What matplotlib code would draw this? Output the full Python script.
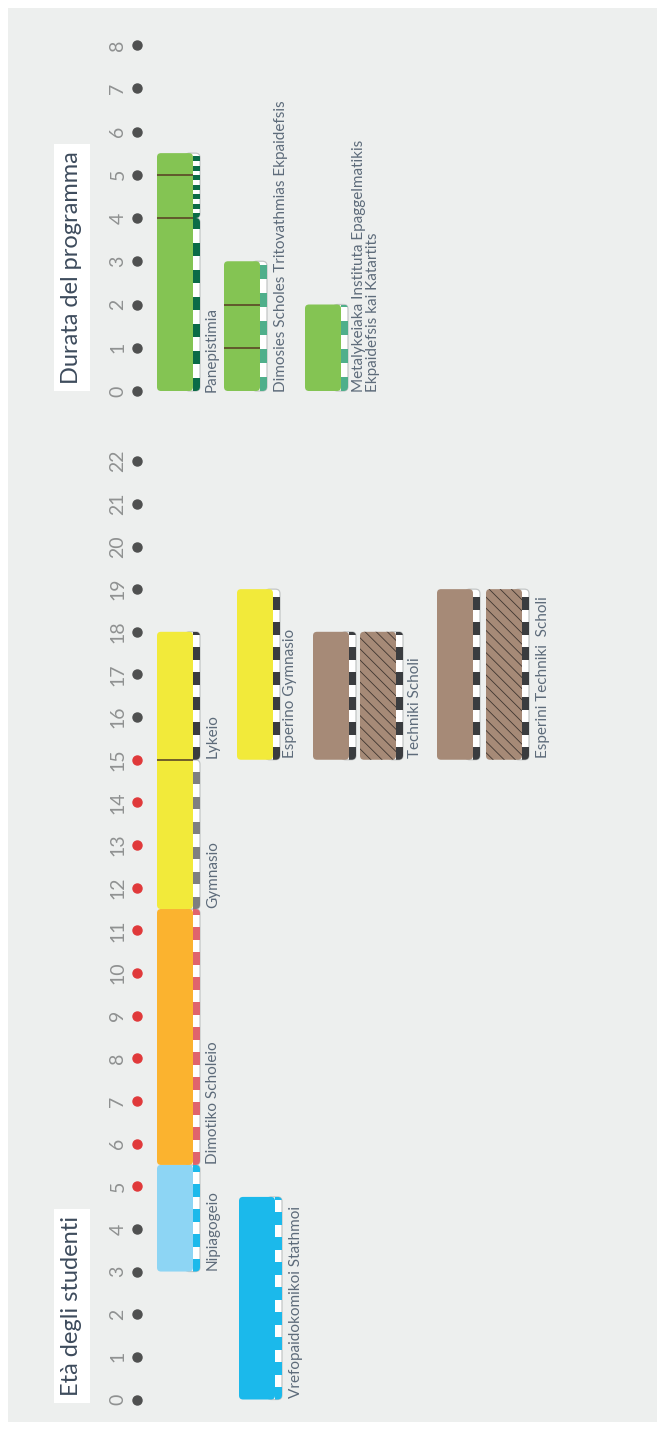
import matplotlib.pyplot as plt
from matplotlib.patches import FancyBboxPatch, Rectangle

plt.rcParams['font.family'] = ['Lato', 'DejaVu Sans']

# ---- data -------------------------------------------------------------
age_ticks = list(range(0, 23))
age_compulsory = list(range(5, 16))
dur_ticks = list(range(0, 9))

# age-based columns (start / end age)
age_col_start = [0, 3, 5.5, 11.5, 15, 15, 15, 15, 15]
age_col_end = [4.75, 5.5, 11.5, 18, 19, 18, 18, 19, 19]
age_col_dividers = [[], [], [], [15], [], [], [], [], []]
age_col_strips = [[0, 4.75], [3, 5.5], [5.5, 11.5], [11.5, 15, 18], [15, 19],
                  [15, 18], [15, 18], [15, 19], [15, 19]]

age_labels = ['Vrefopaidokomikoi Stathmoi', 'Nipiagogeio', 'Dimotiko Scholeio',
              'Gymnasio', 'Lykeio', 'Esperino Gymnasio', 'Techniki Scholi',
              'Esperini Techniki  Scholi']
age_label_at = [0, 3, 5.5, 11.5, 15, 15, 15, 15]

# duration-based columns (years of programme)
dur_col_start = [0, 0, 0]
dur_col_end = [5.5, 3, 2]
dur_col_dividers = [[4, 5], [1, 2], []]
dur_col_strips = [[0, 4, 5.5], [0, 3], [0, 2]]

dur_labels = ['Panepistimia', 'Dimosies Scholes Tritovathmias Ekpaidefsis',
              'Metalykeiaka Instituta Epaggelmatikis\nEkpaidefsis kai Katartits']
dur_label_at = [0, 0, 0]

# ---- styles / layout --------------------------------------------------
blue, lblue, orange, yellow = '#1bb9eb', '#8dd5f4', '#fbb32f', '#f2ea3a'
brown, green = '#a68a77', '#84c453'
dark, grey, red, dgreen, teal = '#3a3c3f', '#7e7f80', '#e0636c', '#0b6b47', '#4faf8b'

age_col_x = [239, 157, 157, 157, 237, 313, 360, 437, 486]
age_col_fill = [blue, lblue, orange, yellow, yellow, brown, brown, brown, brown]
age_col_stripe = [[blue], [blue], [red], [grey, dark], [dark], [dark], [dark], [dark], [dark]]
age_col_hatch = [False, False, False, False, False, False, True, False, True]
age_label_x = [296, 213, 213, 213, 213, 290, 415, 543]

dur_col_x = [157, 224, 305]
dur_col_fill = [green, green, green]
dur_col_stripe = [[dgreen, dgreen], [teal], [teal]]
dur_col_period = [[27, 9.5], [28], [28]]
dur_label_x = [212, 281, 366]

W, H = 657, 1431
fig = plt.figure(figsize=(W / 100, H / 100), dpi=100)
fig.patch.set_facecolor('white')
fig.patches.append(Rectangle((8 / W, 9 / H), 1, 1 - 17 / H, transform=fig.transFigure,
                             facecolor='#edefee', edgecolor='none', zorder=-10))

# pixel mapping: age a -> 1399.5 - 42.65 a ; duration d -> 391 - 43.25 d
ax_age = fig.add_axes([0, 0, 1, 1])
ax_age.set_xlim(0, W)
ax_age.set_ylim((1399.5 - H) / 42.65, 1399.5 / 42.65)
ax_dur = fig.add_axes([0, 0, 1, 1])
ax_dur.set_xlim(0, W)
ax_dur.set_ylim((391 - H) / 43.25, 391 / 43.25)
for ax in (ax_age, ax_dur):
    ax.axis('off')
    ax.patch.set_alpha(0)

LABEL_C = '#5d6b7a'
BAR_W, STRIP_W = 36, 7


def draw_column(ax, ppu, x0, y0, y1, fill, breaks, stripes, periods, dividers, hatched):
    upp = 1.0 / ppu
    # strip segments
    for i in range(len(breaks) - 1):
        s0, s1 = breaks[i], breaks[i + 1]
        box = FancyBboxPatch((x0 + BAR_W - 8, s0), STRIP_W + 8, s1 - s0,
                             boxstyle='round,pad=0,rounding_size=4.5', mutation_aspect=upp,
                             facecolor='white', edgecolor='#c3c6c6', linewidth=0.9, zorder=2)
        ax.add_patch(box)
        per = periods[i] * upp
        y = s0
        while y < s1:
            r = Rectangle((x0 + BAR_W, y), STRIP_W, min(per / 2, s1 - y),
                          facecolor=stripes[i], edgecolor='none', zorder=3)
            ax.add_patch(r)
            r.set_clip_path(box)
            y += per
    main = FancyBboxPatch((x0, y0), BAR_W, y1 - y0,
                          boxstyle='round,pad=0,rounding_size=4', mutation_aspect=upp,
                          facecolor=fill, edgecolor='none', zorder=4)
    ax.add_patch(main)
    if hatched:
        ax.add_patch(FancyBboxPatch((x0, y0), BAR_W, y1 - y0,
                                    boxstyle='round,pad=0,rounding_size=4', mutation_aspect=upp,
                                    facecolor='none', edgecolor='#3f3530', linewidth=0,
                                    hatch='\\\\\\', zorder=5))
    for d in dividers:
        ax.plot([x0, x0 + BAR_W], [d, d], color='#5b4726', linewidth=1.2, zorder=6,
                solid_capstyle='butt')


plt.rcParams['hatch.linewidth'] = 0.6

for i in range(len(age_col_start)):
    br = age_col_strips[i]
    draw_column(ax_age, 42.65, age_col_x[i], age_col_start[i], age_col_end[i],
                age_col_fill[i], br, age_col_stripe[i], [25] * (len(br) - 1),
                age_col_dividers[i], age_col_hatch[i])

for i in range(len(dur_col_start)):
    draw_column(ax_dur, 43.25, dur_col_x[i], dur_col_start[i], dur_col_end[i],
                dur_col_fill[i], dur_col_strips[i], dur_col_stripe[i], dur_col_period[i],
                dur_col_dividers[i], False)

# labels
for txt, at, x in zip(age_labels, age_label_at, age_label_x):
    ax_age.text(x, at + 0.03, txt, rotation=90, ha='center', va='bottom',
                fontsize=11, color=LABEL_C)
for txt, at, x in zip(dur_labels, dur_label_at, dur_label_x):
    ax_dur.text(x, at - 0.02, txt, rotation=90, ha='center', va='bottom',
                fontsize=11, color=LABEL_C, multialignment='left', linespacing=1.0)

# axes dots and numbers
for a in age_ticks:
    c = '#e0393a' if a in age_compulsory else '#4f5050'
    ax_age.plot(137, a, 'o', color=c, markersize=6.5, zorder=6)
    ax_age.text(118, a, str(a), rotation=90, ha='center', va='center',
                fontsize=14, color='#8f9191')
for d in dur_ticks:
    ax_dur.plot(137, d, 'o', color='#4f5050', markersize=6.5, zorder=6)
    ax_dur.text(118, d, str(d), rotation=90, ha='center', va='center',
                fontsize=14, color='#8f9191')

# section titles
title_box = dict(boxstyle='square,pad=0.3', facecolor='white', edgecolor='none')
fig.text(72 / W, 1 - 1396 / H, 'Età degli studenti', rotation=90, ha='center', va='bottom',
         fontsize=17, color='#3d4b5c', bbox=title_box)
fig.text(72 / W, 1 - 384 / H, 'Durata del programma', rotation=90, ha='center', va='bottom',
         fontsize=17, color='#3d4b5c', bbox=title_box)

fig.savefig('out.png', dpi=100)
